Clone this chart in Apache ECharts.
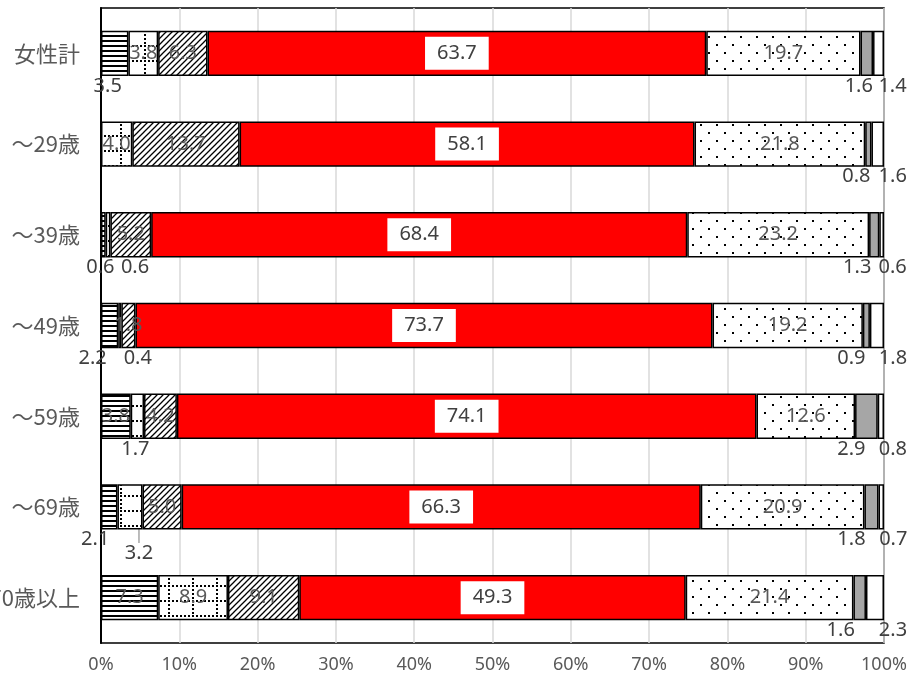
<!DOCTYPE html>
<html>
<head>
<meta charset="utf-8">
<script src="https://cdn.jsdelivr.net/npm/echarts@6/dist/echarts.min.js"></script>
<style>
  html, body { margin: 0; padding: 0; background: #fff; }
  #chart { width: 912px; height: 679px; }
</style>
</head>
<body>
<div id="chart"></div>
<script>
// 年代別の回答割合 (%)
var categories = ['女性計', '～29歳', '～39歳', '～49歳', '～59歳', '～69歳', '70歳以上'];
var s1 = [3.5, 0, 0.6, 2.2, 3.8, 2.1, 7.3];
var s2 = [3.8, 4.0, 0.6, 0.4, 1.7, 3.2, 8.9];
var s3 = [6.3, 13.7, 5.2, 1.8, 4.2, 5.0, 9.1];
var s4 = [63.7, 58.1, 68.4, 73.7, 74.1, 66.3, 49.3];
var s5 = [19.7, 21.8, 23.2, 19.2, 12.6, 20.9, 21.4];
var s6 = [1.6, 0.8, 1.3, 0.9, 2.9, 1.8, 1.6];
var s7 = [1.4, 1.6, 0.6, 1.8, 0.8, 0.7, 2.3];
var tickLabels = ['0%', '10%', '20%', '30%', '40%', '50%', '60%', '70%', '80%', '90%', '100%'];

var allSeries = [s1, s2, s3, s4, s5, s6, s7];

// ラベルをバーの下に出す項目 (系列番号 -> 行番号: 横ずれ)
var belowLabels = {
    0: {0: -7, 2: -3, 3: -17, 5: -14},
    1: {2: 27, 3: 18, 4: -2},
    5: {0: -8, 1: -12, 2: -17, 3: -15, 4: -15, 5: -20, 6: -19},
    6: {0: 14, 1: 15, 2: 11, 3: 16, 4: 12, 5: 12, 6: 18}
};

function makePattern(w, h, draw) {
    var c = document.createElement('canvas');
    c.width = w; c.height = h;
    var ctx = c.getContext('2d');
    ctx.fillStyle = '#fff';
    ctx.fillRect(0, 0, w, h);
    ctx.fillStyle = '#000';
    ctx.strokeStyle = '#000';
    draw(ctx);
    return {image: c, repeat: 'repeat'};
}

var pHoriz = makePattern(8, 5, function (ctx) {
    ctx.fillRect(0, 0, 8, 2);
});
var pGrid = makePattern(24, 15, function (ctx) {
    for (var x = 0; x < 24; x += 4) ctx.fillRect(x, 0, 2, 2);
    for (var y = 0; y < 15; y += 4) ctx.fillRect(0, y, 2, 2);
});
var pDiag = makePattern(6, 6, function (ctx) {
    ctx.lineWidth = 1.3;
    ctx.beginPath();
    ctx.moveTo(-1, 7); ctx.lineTo(7, -1);
    ctx.moveTo(-4, 4); ctx.lineTo(4, -4);
    ctx.moveTo(2, 10); ctx.lineTo(10, 2);
    ctx.stroke();
});
var pDots = makePattern(16, 16, function (ctx) {
    ctx.fillRect(4, 4, 2, 2);
    ctx.fillRect(12, 12, 2, 2);
});

var fills = [pHoriz, pGrid, pDiag, '#ff0000', pDots, '#a6a6a6', '#ffffff'];
var numFont = '"Noto Sans", sans-serif';

// 各行の合計で割って100%積み上げにする
var rowTotals = categories.map(function (c, i) {
    var t = 0;
    allSeries.forEach(function (s) { t += s[i]; });
    return t;
});

var series = allSeries.map(function (vals, si) {
    var below = belowLabels[si] || {};
    var data = vals.map(function (v, i) {
        var item = {value: v / rowTotals[i] * 100, raw: v};
        if (v === 0) {
            item.label = {show: false};
        } else if (below[i] !== undefined) {
            item.label = {
                show: true,
                position: 'bottom',
                distance: 0,
                color: '#404040'
            };
        } else if (si === 1 && i === 5) {
            // 引き出し線付きのラベル
            item.label = {color: '#404040'};
            item.labelLine = {show: true, lineStyle: {color: '#a6a6a6', width: 1.5}};
        }
        return item;
    });
    var label = {
        show: true,
        position: 'inside',
        fontFamily: numFont,
        fontSize: 20,
        color: '#595959',
        formatter: function (p) { return p.data.raw.toFixed(1); }
    };
    if (si === 3) {
        label.backgroundColor = '#fff';
        label.color = '#404040';
        label.padding = [7, 12, 6, 12];
    }
    return {
        name: '項目' + (si + 1),
        type: 'bar',
        stack: 'total',
        barWidth: '50%',
        data: data,
        label: label,
        labelLayout: function (p) {
            if (si === 1 && p.dataIndex === 5) return {dx: 9, dy: 46};
            if (below[p.dataIndex] !== undefined) return {dx: below[p.dataIndex]};
            return {};
        },
        itemStyle: {
            color: fills[si],
            borderColor: '#000',
            borderWidth: 1.5
        },
        emphasis: {disabled: true}
    };
});

var chart = echarts.init(document.getElementById('chart'));
chart.setOption({
    animation: false,
    grid: {
        left: 101,
        right: 28,
        top: 8,
        bottom: 36,
        show: true,
        borderColor: '#000',
        borderWidth: 1.5,
        containLabel: false,
        outerBoundsMode: 'none'
    },
    xAxis: {
        type: 'value',
        min: 0,
        max: 100,
        interval: 10,
        axisLine: {show: false},
        axisTick: {show: false},
        splitLine: {lineStyle: {color: '#d9d9d9', width: 1.5}},
        axisLabel: {
            color: '#595959',
            fontSize: 18,
            fontFamily: numFont,
            margin: 13,
            formatter: function (v) { return tickLabels[Math.round(v / 10)]; }
        }
    },
    yAxis: {
        type: 'category',
        inverse: true,
        data: categories,
        axisLine: {show: true, lineStyle: {color: '#000', width: 2}},
        axisTick: {show: false},
        axisLabel: {
            color: '#595959',
            fontSize: 22,
            fontFamily: '"Noto Sans CJK JP", sans-serif',
            margin: 21
        }
    },
    series: series
});
</script>
</body>
</html>
